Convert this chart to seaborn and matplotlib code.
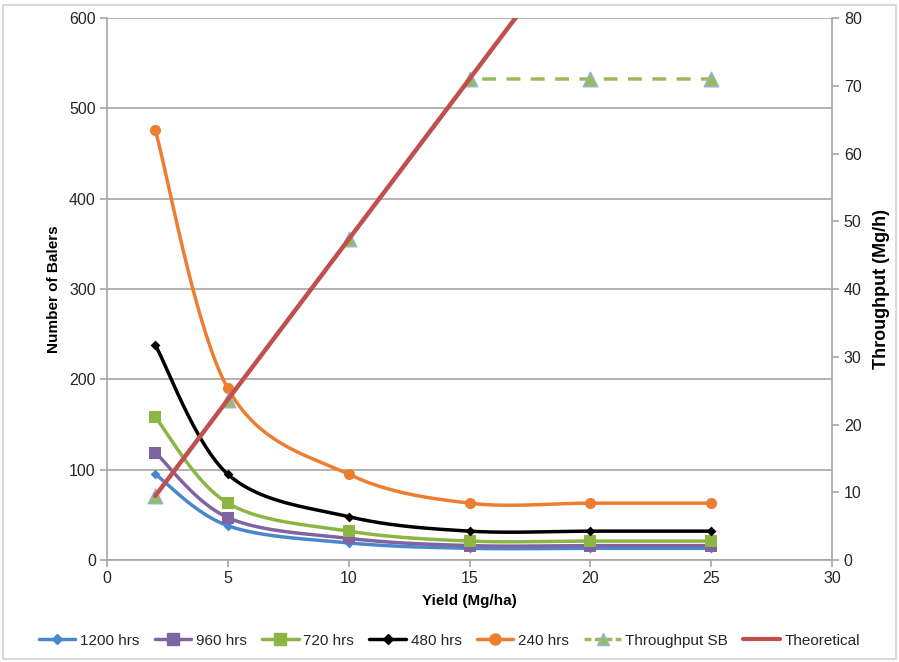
import numpy as np
import pandas as pd
import matplotlib
matplotlib.use("Agg")
import matplotlib.pyplot as plt
from matplotlib.lines import Line2D
from matplotlib.patches import Rectangle
import seaborn as sns

yield_x = [2, 5, 10, 15, 20, 25]
hrs1200 = [95, 38, 19, 13, 13, 13]
hrs960 = [119, 47, 24, 16, 16, 16]
hrs720 = [158, 63, 32, 21, 21, 21]
hrs480 = [238, 95, 48, 32, 32, 32]
hrs240 = [476, 190, 95, 63, 63, 63]
throughput_sb = [9.47, 23.67, 47.33, 71.0, 71.0, 71.0]
theoretical = [9.47, 23.67, 47.33, 71.0, 94.67, 118.33]

sns.set_style("white")
plt.rcParams['font.family'] = ['Liberation Sans', 'DejaVu Sans']

fig = plt.figure(figsize=(8.99, 6.62), dpi=100)
ax = fig.add_axes([0.119, 0.154, 0.8065, 0.8188])
ax2 = ax.twinx()

ax.set_xlim(0, 30)
ax.set_ylim(0, 600)
ax2.set_ylim(0, 80)

# Excel-like smoothing (cardinal bezier) computed in screen-proportional coords
def smooth(x, y, sx, sy, n=40):
    x = np.asarray(x, float) * sx
    y = np.asarray(y, float) * sy
    P = np.column_stack([x, y])
    out = [P[0]]
    m = len(P)
    for i in range(m - 1):
        p0 = P[max(i - 1, 0)]
        p1 = P[i]
        p2 = P[i + 1]
        p3 = P[min(i + 2, m - 1)]
        c1 = p1 + (p2 - p0) / 6.0
        c2 = p2 - (p3 - p1) / 6.0
        t = np.linspace(0, 1, n)[1:, None]
        seg = ((1 - t) ** 3) * p1 + 3 * ((1 - t) ** 2) * t * c1 + 3 * (1 - t) * t ** 2 * c2 + t ** 3 * p2
        out.extend(seg)
    out = np.array(out)
    return out[:, 0] / sx, out[:, 1] / sy

SX = 725 / 30
SYL = 542 / 600

c1200 = "#4A86CE"
c960 = "#8064A2"
c720 = "#8DB544"
c480 = "#000000"
c240 = "#ED7D31"
cSB = "#9BBB59"
cTh = "#C0504D"

series = [
    ("1200 hrs", hrs1200, c1200, "D", 5, 2.5),
    ("960 hrs", hrs960, c960, "s", 9, 2.5),
    ("720 hrs", hrs720, c720, "s", 9, 2.5),
    ("480 hrs", hrs480, c480, "D", 5, 2.5),
    ("240 hrs", hrs240, c240, "o", 8, 2.5),
]

for name, vals, col, mk, ms, lw in series:
    xs, ys = smooth(yield_x, vals, SX, SYL)
    ax.plot(xs, ys, color=col, lw=lw, zorder=3, solid_capstyle="round")
    df = pd.DataFrame({"x": yield_x, "y": vals})
    sns.scatterplot(data=df, x="x", y="y", ax=ax, marker=mk, s=ms ** 2, color=col,
                    edgecolor=col, linewidth=0, zorder=4, legend=False)

# right axis series
ax2.plot(yield_x, throughput_sb, color=cSB, lw=2.5, ls=(0, (4, 3)), zorder=3)
dft = pd.DataFrame({"x": yield_x, "y": throughput_sb})
sns.scatterplot(data=dft, x="x", y="y", ax=ax2, marker="^", s=110, color=cSB,
                edgecolor="#8EB4E3", linewidth=1.0, zorder=4, legend=False)
ax2.plot(yield_x, theoretical, color=cTh, lw=3.2, zorder=5)

# grid and spines
ax.set_yticks(np.arange(0, 601, 100))
ax.set_xticks(np.arange(0, 31, 5))
ax2.set_yticks(np.arange(0, 81, 10))
ax.yaxis.grid(True, color="#A6A6A6", lw=1.2)
ax.set_axisbelow(True)
for a in (ax, ax2):
    for s in a.spines.values():
        s.set_visible(False)
ax.spines['left'].set_visible(True)
ax.spines['bottom'].set_visible(True)
ax2.spines['right'].set_visible(True)
for s in (ax.spines['left'], ax.spines['bottom'], ax2.spines['right']):
    s.set_color("#A6A6A6")
    s.set_linewidth(1.2)

tc = "#262626"
ax.tick_params(axis='both', direction='out', length=5, width=1.2, color="#A6A6A6",
               labelsize=11.5, labelcolor=tc, pad=3)
ax.tick_params(axis='x', bottom=True)
ax.tick_params(axis='y', left=True)
ax2.tick_params(axis='y', direction='out', length=5, width=1.2, color="#A6A6A6",
                labelsize=11.5, labelcolor=tc, right=True)

ax.set_xlabel("Yield (Mg/ha)", fontsize=11, fontweight="bold", labelpad=6, color="black")
ax.set_ylabel("Number of Balers", fontsize=11, fontweight="bold", labelpad=6, color="black")
ax2.set_ylabel("Throughput (Mg/h)", fontsize=13, fontweight="bold", labelpad=8, color="black")

handles = [
    Line2D([], [], color=c1200, lw=2.5, marker="D", ms=5),
    Line2D([], [], color=c960, lw=2.5, marker="s", ms=8),
    Line2D([], [], color=c720, lw=2.5, marker="s", ms=8),
    Line2D([], [], color=c480, lw=2.5, marker="D", ms=5),
    Line2D([], [], color=c240, lw=2.5, marker="o", ms=8),
    Line2D([], [], color=cSB, lw=2.5, ls=(0, (2, 1)), marker="^", ms=8, mfc=cSB, mec="#8EB4E3"),
    Line2D([], [], color=cTh, lw=3),
]
labels = ["1200 hrs", "960 hrs", "720 hrs", "480 hrs", "240 hrs", "Throughput SB", "Theoretical"]
fig.legend(handles, labels, loc="center", bbox_to_anchor=(0.5, 0.032), ncol=7, frameon=False,
           fontsize=11, handlelength=2.4, handletextpad=0.3, columnspacing=1.0,
           labelcolor=tc)

# outer frame
fig.add_artist(Rectangle((0.003, 0.004), 0.994, 0.988, transform=fig.transFigure,
                         fill=False, edgecolor="#D9D9D9", lw=1.5))

fig.savefig("out.png", dpi=100)
